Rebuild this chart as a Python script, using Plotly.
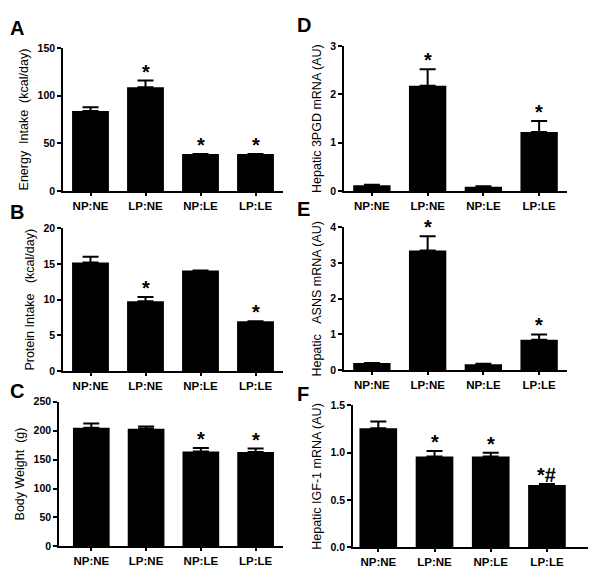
import plotly.graph_objects as go

# ================== 数据 ==================
groups = ['NP:NE', 'LP:NE', 'NP:LE', 'LP:LE']

energy = [84, 109, 39, 39]
energy_err = [4, 7, 0, 0]
energy_sig = ['', '*', '*', '*']

protein = [15.2, 9.8, 14.1, 7.0]
protein_err = [0.8, 0.6, 0, 0]
protein_sig = ['', '*', '', '*']

weight = [205, 203, 164, 163]
weight_err = [7, 4, 6, 6]
weight_sig = ['', '', '*', '*']

pgd = [0.12, 2.18, 0.09, 1.22]
pgd_err = [0.01, 0.34, 0.01, 0.23]
pgd_sig = ['', '*', '', '*']

asns = [0.2, 3.35, 0.17, 0.85]
asns_err = [0.0, 0.4, 0.01, 0.15]
asns_sig = ['', '*', '', '*']

igf = [1.26, 0.96, 0.96, 0.66]
igf_err = [0.07, 0.06, 0.04, 0.01]
igf_sig = ['', '*', '*', '*#']
# ==========================================

W, H = 589, 575
FONT = 'Liberation Sans'
SP = '\u00a0'

# 面板: (字母, 数据, 误差, 显著性, y标题, y范围, y刻度, 像素框 x0,x1,y0,y1, x范围, 字母位置)
panels = [
    ('A', energy, energy_err, energy_sig, 'Energy' + SP * 2 + 'Intake' + SP * 2 + '(kcal/day)',
     [0, 150], 50, (63, 283, 43, 189), [-0.5, 3.5], (8, 22)),
    ('B', protein, protein_err, protein_sig, 'Protein Intake' + SP * 3 + '(kcal/day)',
     [0, 20], 5, (63, 283, 227, 373), [-0.5, 3.5], (8, 210)),
    ('C', weight, weight_err, weight_sig, 'Body Weight' + SP * 2 + '(g)',
     [0, 250], 50, (59, 283, 404, 552), [-0.59, 3.5], (8, 393)),
    ('D', pgd, pgd_err, pgd_sig, 'Hepatic 3PGD mRNA (AU)',
     [0, 3], 1, (344, 567, 41, 189), [-0.5, 3.5], (295, 19)),
    ('E', asns, asns_err, asns_sig, 'Hepatic' + SP * 3 + 'ASNS mRNA (AU)',
     [0, 4], 1, (344, 567, 226, 372), [-0.5, 3.5], (295, 207)),
    ('F', igf, igf_err, igf_sig, 'Hepatic IGF-1 mRNA (AU)',
     [0, 1.5], 0.5, (353, 588, 408, 553), [-0.45, 3.73], (295, 396)),
]

fig = go.Figure()
annotations = []

for i, (letter, vals, errs, sigs, ytitle, yr, dt, box, xr, lpos) in enumerate(panels):
    n = '' if i == 0 else str(i + 1)
    xa, ya = 'x' + n, 'y' + n
    x0, x1, y0, y1 = box

    fig.add_trace(go.Bar(
        x=groups, y=vals, xaxis=xa, yaxis=ya,
        marker=dict(color='black', line=dict(width=0)),
        width=0.67,
        error_y=dict(type='data', symmetric=False, array=errs,
                     arrayminus=[0] * len(errs), color='black',
                     thickness=2, width=8),
        showlegend=False,
    ))

    tickfmt = '.1f' if letter == 'F' else 'd'
    fig.update_layout(**{
        'xaxis' + n: dict(domain=[x0 / W, x1 / W], anchor=ya, range=xr,
                          showline=True, linecolor='black', linewidth=1.5,
                          ticks='outside', ticklen=3, tickwidth=1.5, tickcolor='black',
                          tickfont=dict(family=FONT, size=11.5, color='black', weight='bold'),
                          showgrid=False, zeroline=False, fixedrange=True),
        'yaxis' + n: dict(domain=[1 - y1 / H, 1 - y0 / H], anchor=xa, range=yr,
                          dtick=dt, tick0=0, tickformat=tickfmt,
                          showline=True, linecolor='black', linewidth=1.5,
                          ticks='outside', ticklen=4, tickwidth=1.5, tickcolor='black',
                          tickfont=dict(family=FONT, size=10.5, color='black', weight='bold'),
                          title=dict(text=ytitle, standoff=6,
                                     font=dict(family=FONT, size=12.5, color='black')),
                          showgrid=False, zeroline=False, fixedrange=True),
    })

    # 显著性标记
    for g, v, e, s in zip(groups, vals, errs, sigs):
        if s:
            annotations.append(dict(
                x=g, y=v + e, xref=xa, yref=ya, text='<b>' + s + '</b>',
                showarrow=False, yanchor='bottom', yshift=-4,
                font=dict(family=FONT, size=20, color='black'),
            ))

    # 面板字母
    annotations.append(dict(
        x=lpos[0] / W, y=1 - lpos[1] / H, xref='paper', yref='paper',
        text='<b>' + letter + '</b>', showarrow=False,
        xanchor='left', yanchor='middle',
        font=dict(family=FONT, size=20, color='black'),
    ))

fig.update_layout(
    width=W, height=H,
    margin=dict(l=0, r=0, t=0, b=0),
    paper_bgcolor='white', plot_bgcolor='white',
    annotations=annotations,
    bargap=0.33,
)

fig.write_html('out.html', config={'displayModeBar': False},
               post_script="document.body.style.margin='0';document.body.style.overflow='hidden';")
